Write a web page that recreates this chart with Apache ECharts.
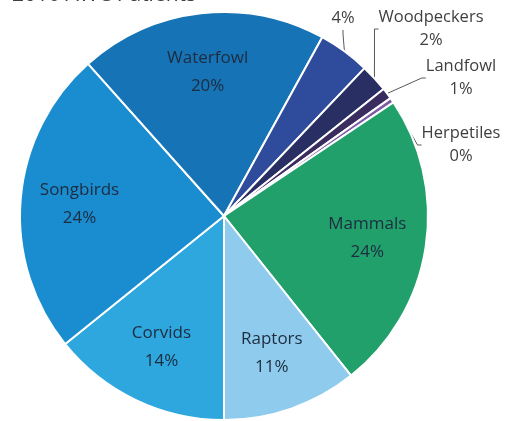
<!DOCTYPE html>
<html><head><meta charset="utf-8">
<script src="https://cdn.jsdelivr.net/npm/echarts@6/dist/echarts.min.js"></script>
<style>html,body{margin:0;padding:0;background:#fff}#c{width:511px;height:421px}</style>
</head><body><div id="c"></div>
<script>
const categories = ['Corvids','Songbirds','Waterfowl','Shorebirds','Woodpeckers','Landfowl','Herpetiles','Mammals','Raptors'];
const values = [14.2, 24.2, 19.6, 4.1, 2.2, 0.9, 0.4, 23.7, 10.7];
const colors = ['#2ea6de','#1a8dd0','#1673b6','#2f4b9b','#2a2f63','#3b2c60','#7b5aa6','#21a06b','#8fcbed'];
const titleText = '2016 AWC Patients';

const chart = echarts.init(document.getElementById('c'));
const total = values.reduce((a,b)=>a+b,0);
const pct = v => Math.round(v/total*100) + '%';
const fontFam = '"Open Sans", Lato, sans-serif';
const outsidePos = {Shorebirds:[343,7], Woodpeckers:[431,29], Landfowl:[461,78], Herpetiles:[461,145]};

const mainData = categories.map((n,i)=>({
  name:n, value:values[i],
  itemStyle:{color:colors[i]},
  label:{show: values[i] < 5},
  labelLine:{show: values[i] < 5}
}));
const overlayData = categories.map((n,i)=>({
  name:n, value:values[i],
  label:{show: values[i] >= 5}
}));

chart.setOption({
  animation:false,
  graphic:[{type:'text', x:12, y:6, style:{text:titleText, font:'21px '+fontFam, fill:'#404040', verticalAlign:'bottom'}}],
  series:[
    {
      type:'pie', center:[224,216], radius:[0,204], startAngle:-90, clockwise:true,
      data:mainData,
      itemStyle:{borderColor:'#fff', borderWidth:2},
      label:{position:'outside', formatter:p=>p.name+'\n'+pct(p.value), color:'#404040',
        fontFamily:fontFam, fontSize:16.5, lineHeight:23, align:'center', overflow:'none'},
      labelLine:{show:true, length:10, length2:4, lineStyle:{color:'#595959', width:1}},
      labelLayout:function(p){
        const n = categories[p.dataIndex];
        const pos = outsidePos[n];
        if(!pos) return {};
        return {x:pos[0], y:pos[1], align:'center', verticalAlign:'middle'};
      },
      silent:true
    },
    {
      type:'pie', center:[224,216], radius:[80,204], startAngle:-90, clockwise:true,
      data:overlayData,
      itemStyle:{color:'rgba(0,0,0,0)', borderWidth:0},
      label:{position:'inside', formatter:p=>p.name+'\n'+pct(p.value), color:'#1d2c3f',
        fontFamily:fontFam, fontSize:17, lineHeight:28, overflow:'none'},
      labelLine:{show:false},
      silent:true
    }
  ]
});
</script></body></html>
